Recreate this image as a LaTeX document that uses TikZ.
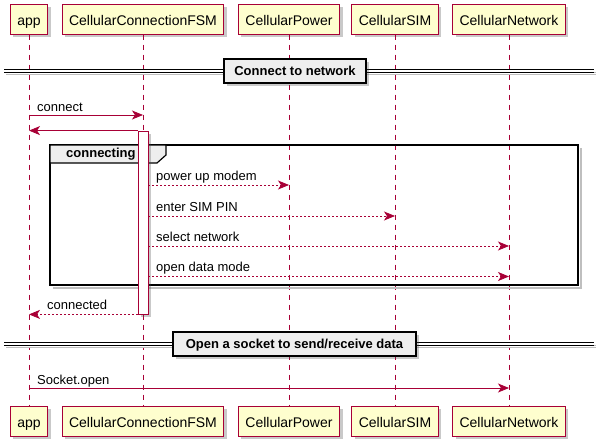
\documentclass[tikz,border=0pt]{standalone}
\usepackage{fontspec}
\setmainfont{Liberation Sans}
\usetikzlibrary{arrows.meta,shadows}
\definecolor{umlred}{HTML}{A80036}
\definecolor{umlfill}{HTML}{FEFECE}
\definecolor{umlgray}{HTML}{EEEEEE}
\begin{document}
\begin{tikzpicture}[x=1pt,y=-1pt,
    shade it/.style={drop shadow={shadow xshift=3pt,shadow yshift=-3pt,opacity=0.3,fill=black!70}},
    actor/.style={draw=umlred,fill=umlfill,line width=1pt,text height=12.5pt,text depth=0.5pt,
        inner ysep=8.5pt,inner xsep=7pt,font=\fontsize{14}{16}\selectfont,shade it},
    life/.style={umlred,line width=0.6pt,dash pattern=on 5pt off 5pt},
    msg/.style={umlred,line width=0.8pt,-{Stealth[length=11pt,width=9pt,inset=3pt]}},
    reply/.style={msg,dash pattern=on 2pt off 2pt},
    lbl/.style={font=\fontsize{13}{15}\selectfont,anchor=base west,inner sep=0pt},
    divbox/.style={draw=black,line width=1.3pt,fill=umlgray,text height=10pt,text depth=2pt,
        inner ysep=6pt,font=\bfseries\fontsize{13}{15}\selectfont,shade it},
    divline/.style={line width=0.9pt,double distance=1.8pt}]
\useasboundingbox (0,0) rectangle (598,447);

% participants, top and bottom
\node[actor] (app)   at (29,19)  {app};
\node[actor] (fsm)   at (143,19) {CellularConnectionFSM};
\node[actor] (power) at (289,19) {CellularPower};
\node[actor] (sim)   at (395,19) {CellularSIM};
\node[actor] (net)   at (509,19) {CellularNetwork};
\node[actor] (appB)   at (29,421)  {app};
\node[actor] (fsmB)   at (143,421) {CellularConnectionFSM};
\node[actor] (powerB) at (289,421) {CellularPower};
\node[actor] (simB)   at (395,421) {CellularSIM};
\node[actor] (netB)   at (509,421) {CellularNetwork};

\draw[life] (app) -- (appB);
\draw[life] (fsm) -- (fsmB);
\draw[life] (power) -- (powerB);
\draw[life] (sim) -- (simB);
\draw[life] (net) -- (netB);

% divider: connect to network
\draw[divline,black!25] (6,73.5) -- (596,73.5);
\draw[divline] (4,71.2) -- (594,71.2);
\node[divbox,minimum width=142pt] (div1) at (295,71) {Connect to network};

\draw[msg] (app |- 0,115) -- (fsm |- 0,115);
\node[lbl] (l1) at (37,111) {connect};

% group frame
\draw[black!25,line width=1.5pt] (581,148) -- (581,288) -- (53,288);
\draw[black,line width=1.5pt] (50,145) rectangle (578,285);
\draw[black,line width=1.2pt,fill=umlgray] (50,145) -- (166,145) -- (166,155) -- (157,163) -- (50,163) -- cycle;
\node[font=\bfseries\fontsize{13}{15}\selectfont,anchor=west,inner sep=0pt] (grp) at (66,154.5) {connecting};

% activation
\node[draw=umlred,fill=white,line width=0.8pt,minimum width=10pt,minimum height=183pt,inner sep=0pt,shade it] (act) at (143,222.5) {};
\draw[msg] (act.north west) -- (app |- act.north);

\draw[reply] (act.east |- 0,185) -- (power |- 0,185);
\node[lbl] (l2) at (156,180) {power up modem};
\draw[reply] (act.east |- 0,216) -- (sim |- 0,216);
\node[lbl] (l3) at (156,211) {enter SIM PIN};
\draw[reply] (act.east |- 0,246) -- (net |- 0,246);
\node[lbl] (l4) at (156,241) {select network};
\draw[reply] (act.east |- 0,276.5) -- (net |- 0,276.5);
\node[lbl] (l5) at (156,271.5) {open data mode};

\draw[reply] (act.south west) -- (app |- act.south);
\node[lbl] (l6) at (47,309) {connected};

% divider: open a socket
\draw[divline,black!25] (6,346.5) -- (596,346.5);
\draw[divline] (4,344.2) -- (594,344.2);
\node[divbox,minimum width=243pt] (div2) at (294.5,344) {Open a socket to send/receive data};

\draw[msg] (app |- 0,388) -- (net |- 0,388);
\node[lbl] (l7) at (37,384) {Socket.open};
\end{tikzpicture}
\end{document}
